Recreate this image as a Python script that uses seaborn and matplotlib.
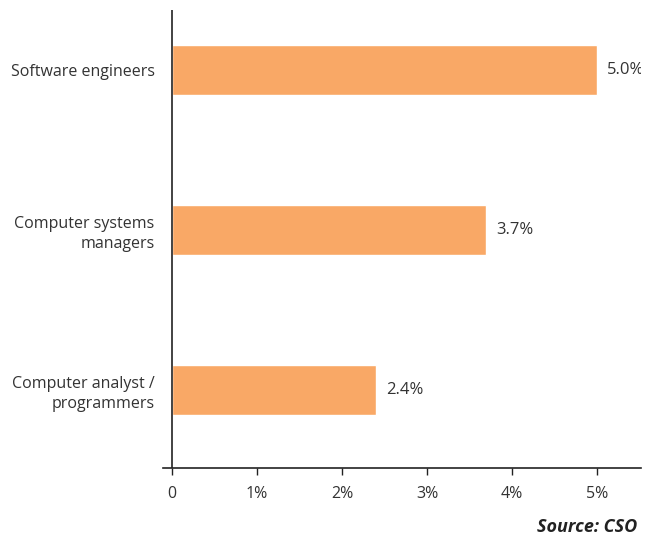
import matplotlib
matplotlib.use("Agg")
import matplotlib.pyplot as plt
import seaborn as sns
import pandas as pd

occupations = ["Software engineers", "Computer systems\nmanagers", "Computer analyst /\nprogrammers"]
growth = [5.0, 3.7, 2.4]
tick_values = [0, 1, 2, 3, 4, 5]
tick_labels = ["0", "1%", "2%", "3%", "4%", "5%"]

sns.set_theme(style="white")
plt.rcParams["font.family"] = ["Open Sans", "DejaVu Sans"]
text_color = "#333333"
bar_color = "#F9A866"

df = pd.DataFrame({"occupation": occupations, "growth": growth})

fig = plt.figure(figsize=(6.54, 5.35), dpi=100)
ax = fig.add_axes([163 / 654, 67 / 535, (641 - 163) / 654, (525 - 67) / 535])

sns.barplot(data=df, x="growth", y="occupation", orient="h", color=bar_color,
            saturation=1, width=0.3125, ax=ax)

ax.set_xlim(-0.106, 5.518)
ax.set_ylim(2.4875, -0.375)
ax.set_xlabel("")
ax.set_ylabel("")

for s in ["top", "right", "left"]:
    ax.spines[s].set_visible(False)
ax.spines["bottom"].set_color("#222222")
ax.spines["bottom"].set_linewidth(1.2)
ax.axvline(0, color="#222222", lw=1.2, zorder=3)

ax.set_xticks(tick_values)
ax.set_xticklabels(tick_labels, color=text_color, fontsize=11.5)
ax.tick_params(axis="x", bottom=True, length=5, width=1, color="#222222", pad=8)
ax.tick_params(axis="y", left=False, length=0, pad=6)
for lbl in ax.get_yticklabels():
    lbl.set_fontsize(11.5)
    lbl.set_color(text_color)
    lbl.set_horizontalalignment("right")
    lbl.set_multialignment("right")
    lbl.set_linespacing(1.3)

for i, v in enumerate(growth):
    ax.text(v + 0.12, i, f"{v:.1f}%", va="center", ha="left",
            fontsize=12, color=text_color, clip_on=True)

fig.text(637 / 654, 1 - 527 / 535, "Source: CSO", ha="right", va="center",
         fontsize=13, fontweight="bold", fontstyle="italic", color="#222222")

fig.savefig("out.png", dpi=100)
